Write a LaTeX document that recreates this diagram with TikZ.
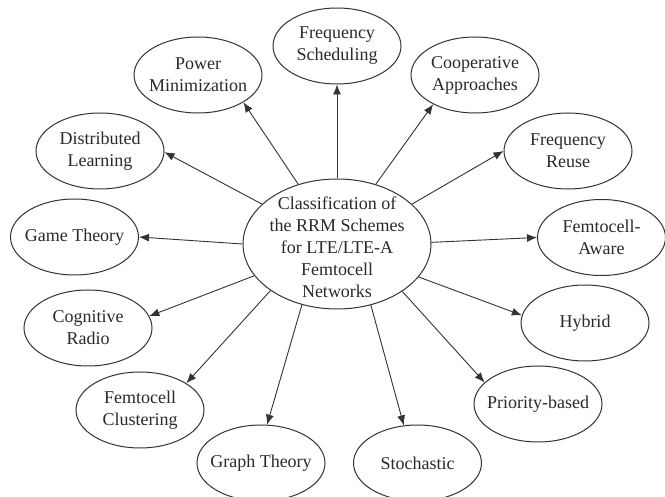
\documentclass[tikz,border=0pt]{standalone}
\usepackage{fontspec}
\setmainfont{Liberation Serif}
\usetikzlibrary{shapes.geometric,arrows.meta}
\definecolor{linec}{HTML}{333333}
\definecolor{textc}{HTML}{2A2A2A}
\begin{document}
\begin{tikzpicture}[x=1pt,y=-1pt,
  oval/.style={ellipse, draw=linec, line width=1pt, minimum width=128pt, minimum height=76pt, inner sep=0pt},
  lab/.style={align=center, text=textc, font=\fontsize{18}{22}\selectfont, inner sep=0pt},
  arr/.style={draw=linec, line width=0.9pt, -{Latex[length=10pt,width=8pt]}}]
\useasboundingbox[fill=white] (0,0) rectangle (665,497);
% centre
\node[ellipse, draw=linec, line width=1pt, minimum width=188pt, minimum height=130pt, inner sep=0pt] (c) at (337,244) {};
\node[lab] (ct) at (337,247) {Classification of\\the RRM Schemes\\for LTE/LTE-A\\Femtocell\\Networks};
% outer
\node[oval, label={[lab]center:{Frequency\\Scheduling}}] (fs) at (337,46) {};
\node[oval, label={[lab]center:{Power\\Minimization}}] (pm) at (198,75) {};
\node[oval, label={[lab]center:{Cooperative\\Approaches}}] (ca) at (475,75) {};
\node[oval, label={[lab]center:{Distributed\\Learning}}] (dl) at (100,151) {};
\node[oval, label={[lab]center:{Frequency\\Reuse}}] (fr) at (568,151) {};
\node[oval, label={[lab]center:{Game Theory}}] (gt) at (74.5,237) {};
\node[oval, label={[lab]center:{Femtocell-\\Aware}}] (fa) at (601.5,237.5) {};
\node[oval, label={[lab]center:{Cognitive\\Radio}}] (cr) at (88,328) {};
\node[oval, label={[lab]center:{Hybrid}}] (hy) at (585,323) {};
\node[oval, label={[lab]center:{Femtocell\\Clustering}}] (fc) at (140,410) {};
\node[oval, label={[lab]center:{Priority-based}}] (pb) at (538,404) {};
\node[oval, label={[lab]center:{Graph Theory}}] (gr) at (261,463) {};
\node[oval, label={[lab]center:{Stochastic}}] (st) at (417.5,463) {};
% arrows
\draw[arr] (c.90) -- (fs.-90);
\draw[arr] (c.123) -- (pm.-31);
\draw[arr] (c.152.5) -- (dl.-1);
\draw[arr] (c.180.6) -- (gt.0);
\draw[arr] (c.201.3) -- (cr.11.5);
\draw[arr] (c.215.5) -- (fc.30);
\draw[arr] (c.240.2) -- (gr.81);
\draw[arr] (c.299.8) -- (st.110);
\draw[arr] (c.324.5) -- (pb.158);
\draw[arr] (c.338.4) -- (hy.173);
\draw[arr] (c.1.2) -- (fa.180);
\draw[arr] (c.28) -- (fr.180);
\draw[arr] (c.57.2) -- (ca.215);
\end{tikzpicture}
\end{document}
